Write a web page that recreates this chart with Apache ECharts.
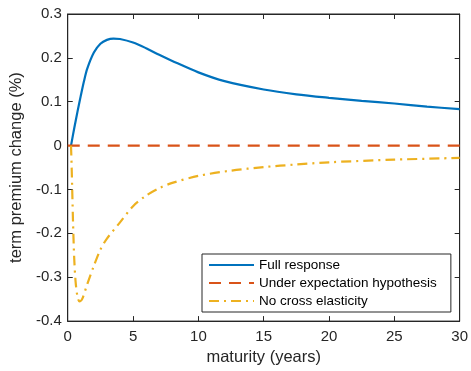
<!DOCTYPE html>
<html><head><meta charset="utf-8">
<script src="https://cdn.jsdelivr.net/npm/echarts@6/dist/echarts.min.js"></script>
<style>html,body{margin:0;padding:0;background:#fff}#c{width:471px;height:371px}</style>
</head><body><div id="c"></div>
<script>
const seriesNames = ['Full response', 'Under expectation hypothesis', 'No cross elasticity'];
const fullX = [0.25, 0.5, 0.75, 1, 1.25, 1.5, 2, 2.5, 3, 3.5, 4, 5, 6, 7, 8, 10, 12, 15, 17.5, 20, 22.5, 25, 27.5, 30];
const fullY = [0, 0.04, 0.078, 0.114, 0.148, 0.176, 0.212, 0.232, 0.241, 0.244, 0.243, 0.235, 0.222, 0.207, 0.193, 0.167, 0.147, 0.128, 0.117, 0.109, 0.102, 0.096, 0.089, 0.083];
const ehX = [0, 30];
const ehY = [0, 0];
const nceX = [0.25, 0.3, 0.35, 0.4, 0.45, 0.5, 0.6, 0.75, 0.9, 1.1, 1.5, 2, 2.5, 3, 4, 5, 6, 7, 8, 10, 12.5, 15, 17.5, 20, 25, 30];
const nceY = [0, -0.05, -0.11, -0.17, -0.22, -0.26, -0.31, -0.345, -0.355, -0.35, -0.315, -0.274, -0.237, -0.212, -0.175, -0.138, -0.114, -0.097, -0.085, -0.069, -0.057, -0.049, -0.043, -0.038, -0.032, -0.028];
const xTicks = [0, 5, 10, 15, 20, 25, 30];
const yTicks = [-0.4, -0.3, -0.2, -0.1, 0, 0.1, 0.2, 0.3];

const zip = (xs, ys) => xs.map((x, i) => [x, ys[i]]);
const axC = '#262626';
const font = 'Liberation Sans, Arial, Helvetica, sans-serif';
const chart = echarts.init(document.getElementById('c'));
const fmtY = v => { const r = Math.round(v * 10) / 10; return r === 0 ? '0' : String(r); };
chart.setOption({
  animation: false,
  grid: { left: 63, right: 9, top: 14, bottom: 47, show: true, borderColor: axC, borderWidth: 1 },
  xAxis: [
    { type: 'value', min: xTicks[0], max: xTicks[xTicks.length - 1], interval: 5,
      name: 'maturity (years)', nameLocation: 'middle', nameGap: 27,
      nameTextStyle: { color: axC, fontSize: 16.5, fontFamily: font },
      axisLine: { show: true, onZero: false, lineStyle: { color: axC } },
      axisTick: { show: true, inside: true, length: 5, lineStyle: { color: axC } },
      axisLabel: { color: axC, fontSize: 15, fontFamily: font, margin: 8 },
      splitLine: { show: false } },
    { type: 'value', position: 'top', min: xTicks[0], max: xTicks[xTicks.length - 1], interval: 5,
      axisLine: { show: true, onZero: false, lineStyle: { color: axC } },
      axisTick: { show: true, inside: true, length: 5, lineStyle: { color: axC } },
      axisLabel: { show: false }, splitLine: { show: false } }
  ],
  yAxis: [
    { type: 'value', min: yTicks[0], max: yTicks[yTicks.length - 1], interval: 0.1,
      name: 'term premium change (%)', nameLocation: 'middle', nameGap: 39, nameRotate: 90,
      nameTextStyle: { color: axC, fontSize: 16.5, fontFamily: font },
      axisLine: { show: true, onZero: false, lineStyle: { color: axC } },
      axisTick: { show: true, inside: true, length: 5, lineStyle: { color: axC } },
      axisLabel: { color: axC, fontSize: 15, fontFamily: font, margin: 6, formatter: fmtY },
      splitLine: { show: false } },
    { type: 'value', position: 'right', min: yTicks[0], max: yTicks[yTicks.length - 1], interval: 0.1,
      axisLine: { show: true, onZero: false, lineStyle: { color: axC } },
      axisTick: { show: true, inside: true, length: 5, lineStyle: { color: axC } },
      axisLabel: { show: false }, splitLine: { show: false } }
  ],
  legend: {
    orient: 'vertical', left: 202, top: 254,
    padding: [4, 14, 4, 6], itemGap: 4, itemWidth: 45, itemHeight: 14,
    borderColor: axC, borderWidth: 1, backgroundColor: '#fff',
    itemStyle: { opacity: 0 },
    textStyle: { color: '#000', fontSize: 13.5, fontFamily: font },
    data: seriesNames
  },
  series: [
    { name: seriesNames[0], type: 'line', data: zip(fullX, fullY), smooth: 0.3, symbol: 'none',
      lineStyle: { color: '#0072BD', width: 2.2 }, itemStyle: { color: '#0072BD' } },
    { name: seriesNames[1], type: 'line', data: zip(ehX, ehY), symbol: 'none',
      lineStyle: { color: '#D95319', width: 2.2, type: [12, 8] }, itemStyle: { color: '#D95319' } },
    { name: seriesNames[2], type: 'line', data: zip(nceX, nceY), smooth: 0.3, symbol: 'none',
      lineStyle: { color: '#EDB120', width: 2.2, type: [10, 5, 2, 5] }, itemStyle: { color: '#EDB120' } }
  ]
});
</script></body></html>
